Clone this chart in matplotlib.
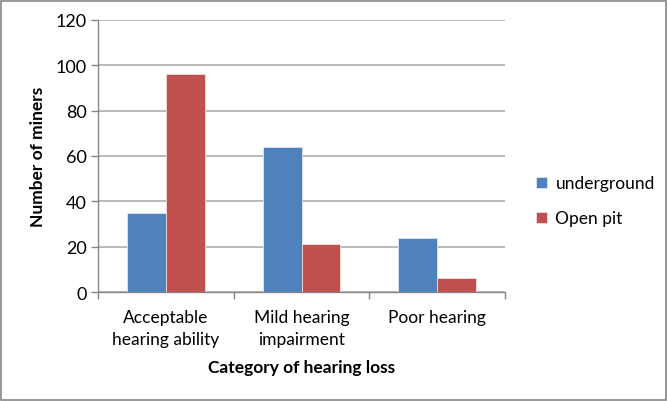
import matplotlib.pyplot as plt
import numpy as np
from matplotlib.patches import Rectangle

categories = ['Acceptable\nhearing ability', 'Mild hearing\nimpairment', 'Poor hearing']
underground = [35, 64, 24]
open_pit = [96, 21, 6]

plt.rcParams['font.family'] = ['Lato', 'DejaVu Sans']

fig = plt.figure(figsize=(6.68, 4.02), dpi=100)
ax = fig.add_axes([0.147, 0.271, 0.609, 0.677])

x = np.arange(len(categories))
w = 1 / 3.5
ax.bar(x - w / 2, underground, w, color='#4F81BD', edgecolor='#dce6f2', linewidth=0.6,
       label='underground', zorder=3)
ax.bar(x + w / 2, open_pit, w, color='#C0504D', edgecolor='#f2dcdb', linewidth=0.6,
       label='Open pit', zorder=3)

ax.set_xlim(-0.5, 2.5)
ax.set_ylim(0, 120)
ax.set_yticks(range(0, 121, 20))
ax.yaxis.grid(True, color='#a6a6a6', linewidth=1.1, zorder=0)

# category ticks at boundaries
ax.set_xticks([-0.5, 0.5, 1.5, 2.5])
ax.set_xticklabels([])
ax.set_xticks(x, minor=True)
ax.set_xticklabels(categories, minor=True, fontsize=12.5, linespacing=1.45)
ax.tick_params(axis='x', which='minor', length=0, pad=12)
ax.tick_params(axis='x', which='major', length=5, color='#868686', width=1)
ax.tick_params(axis='y', length=5, color='#868686', width=1, labelsize=13, pad=3)

for s in ['top', 'right']:
    ax.spines[s].set_visible(False)
for s in ['left', 'bottom']:
    ax.spines[s].set_color('#868686')
    ax.spines[s].set_linewidth(1)

ax.set_ylabel('Number of miners', fontsize=12.5, fontweight='bold', labelpad=7)
ax.set_xlabel('Category of hearing loss', fontsize=12.5, fontweight='bold', labelpad=9)

ax.legend(loc='center left', bbox_to_anchor=(1.06, 0.335), frameon=False, fontsize=12.5,
          handlelength=0.6, handleheight=0.6, handletextpad=0.5, labelspacing=1.1,
          borderaxespad=0)

fig.patches.append(Rectangle((0.002, 0.003), 0.995, 0.993, transform=fig.transFigure,
                             fill=False, edgecolor='#868686', linewidth=1.2))

fig.savefig('out.png', dpi=100)
